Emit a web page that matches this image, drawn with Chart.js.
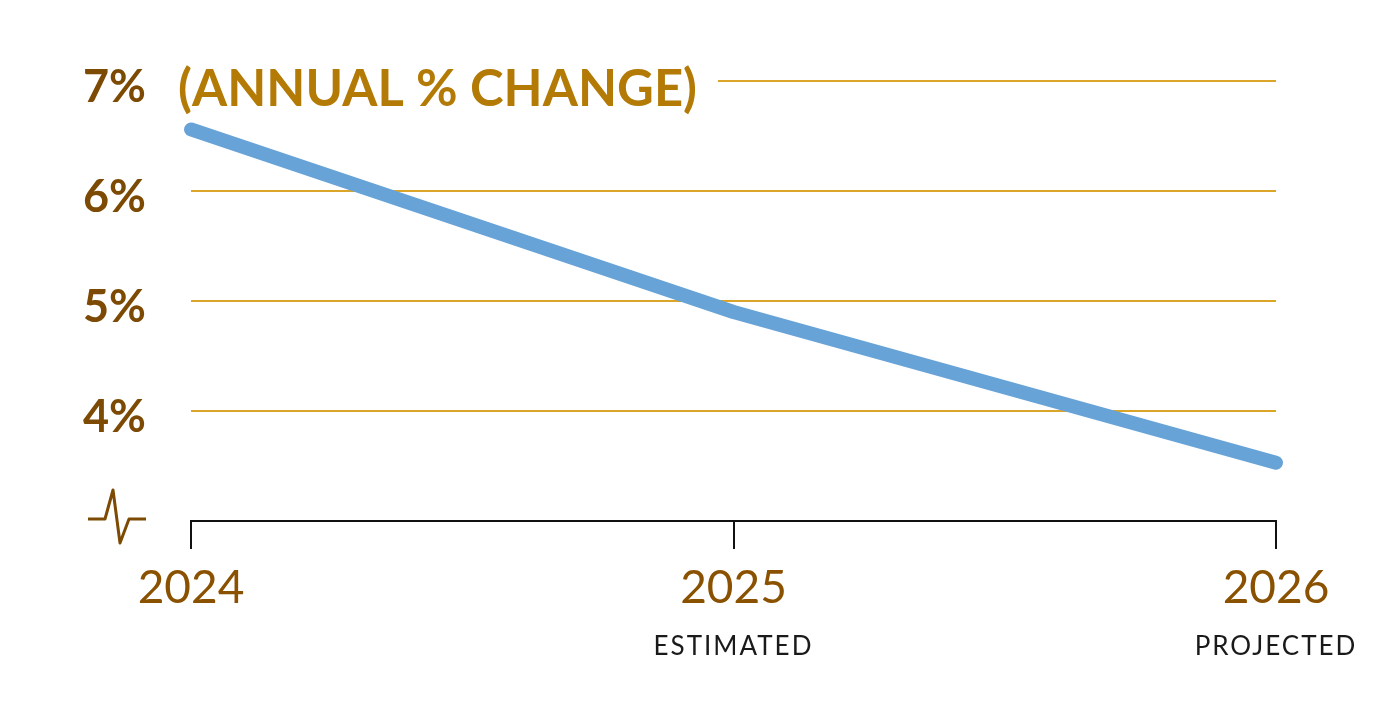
<!DOCTYPE html>
<html>
<head>
<meta charset="utf-8">
<script src="https://cdn.jsdelivr.net/npm/chart.js@4/dist/chart.umd.min.js"></script>
<style>
  html, body { margin: 0; padding: 0; background: #fff; }
  #wrap { width: 1386px; height: 719px; }
</style>
</head>
<body>
<div id="wrap"><canvas id="growthChart"></canvas></div>
<script>
const years = ["2024", "2025", "2026"];
const yearNotes = ["", "ESTIMATED", "PROJECTED"];
const growth = [6.56, 4.9, 3.53];
const yTicks = [3, 4, 5, 6, 7];
const chartTitle = "(ANNUAL % CHANGE)";

const GOLD = "#dba52a";
const BROWN = "#7d4a04";

// title over the top gridline + axis break mark + sub labels
const extras = {
  id: "extras",
  beforeDatasetsDraw(chart) {
    const ctx = chart.ctx;
    const y = chart.scales.y.getPixelForValue(7);
    ctx.save();
    ctx.fillStyle = "#fff";
    ctx.fillRect(chart.chartArea.left - 2, y - 10, 720 - chart.chartArea.left, 20);
    ctx.fillStyle = "#b37a06";
    ctx.font = "bold 52px Lato";
    ctx.textBaseline = "alphabetic";
    ctx.textAlign = "left";
    const w = ctx.measureText(chartTitle).width;
    ctx.translate(178, y + 25);
    ctx.scale(519 / w, 1);
    ctx.fillText(chartTitle, 0, 0);
    ctx.restore();
  },
  afterDraw(chart) {
    const ctx = chart.ctx;
    const base = chart.scales.y.getPixelForValue(3);
    ctx.save();
    ctx.strokeStyle = BROWN;
    ctx.lineWidth = 3;
    ctx.lineJoin = "round";
    ctx.beginPath();
    ctx.moveTo(88, base - 2);
    ctx.lineTo(105, base - 2);
    ctx.lineTo(113, base - 31);
    ctx.lineTo(120, base + 22);
    ctx.lineTo(129, base - 2);
    ctx.lineTo(146, base - 2);
    ctx.stroke();

    ctx.fillStyle = "#1a1a1a";
    ctx.font = "26px Lato";
    ctx.letterSpacing = "2px";
    ctx.textAlign = "center";
    ctx.textBaseline = "alphabetic";
    yearNotes.forEach((note, i) => {
      if (!note) return;
      const x = chart.scales.x.getPixelForValue(i);
      ctx.fillText(note, x, 655);
    });
    ctx.restore();
  }
};

new Chart(document.getElementById("growthChart"), {
  type: "line",
  data: {
    labels: years,
    datasets: [{
      data: growth,
      borderColor: "#68a3d8",
      borderWidth: 14,
      borderCapStyle: "round",
      borderJoinStyle: "round",
      pointRadius: 0,
      tension: 0,
      clip: false
    }]
  },
  options: {
    responsive: true,
    maintainAspectRatio: false,
    animation: false,
    layout: { padding: { top: 81, right: 110, left: 0, bottom: 0 } },
    plugins: { legend: { display: false }, tooltip: { enabled: false } },
    scales: {
      x: {
        offset: false,
        afterFit(s) { s.height = 198; },
        border: { color: "#111", width: 2 },
        grid: { drawOnChartArea: false, drawTicks: true, tickLength: 28, color: "#111", lineWidth: 2 },
        ticks: { color: "#8a5200", font: { family: "Lato", size: 46 }, padding: 12, maxRotation: 0, autoSkip: false }
      },
      y: {
        min: 3,
        max: 7,
        afterFit(s) { s.width = 191; },
        afterBuildTicks(s) { s.ticks = yTicks.map(v => ({ value: v })); },
        border: { display: false },
        grid: {
          drawTicks: false,
          lineWidth: 2,
          color: c => (c.tick && c.tick.value === 3) ? "rgba(0,0,0,0)" : GOLD
        },
        ticks: {
          color: BROWN,
          padding: 45,
          labelOffset: 6,
          font: { family: "Lato", size: 45, weight: "bold" },
          callback: v => v === 3 ? "" : v + "%"
        }
      }
    }
  },
  plugins: [extras]
});
</script>
</body>
</html>
